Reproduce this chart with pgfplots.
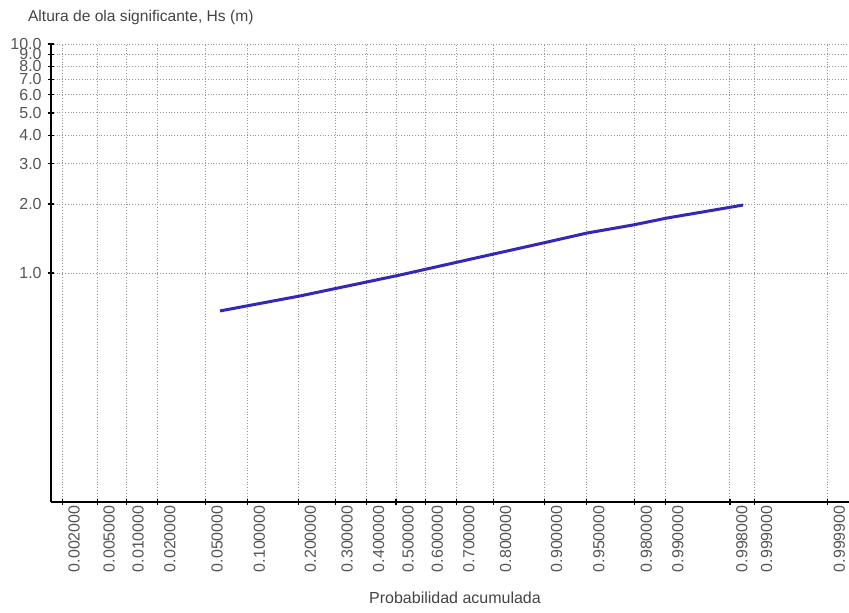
\documentclass[border=0pt]{standalone}
\usepackage{pgfplots}
\pgfplotsset{compat=1.18}
\usepackage{fontspec}
\setmainfont{Liberation Sans}
\definecolor{lblgray}{RGB}{85,85,85}
\definecolor{gridgray}{RGB}{150,150,150}
\definecolor{lineblue}{RGB}{50,40,185}
\begin{document}
\begin{tikzpicture}
\path[use as bounding box] (-25.5pt,-55pt) rectangle (399pt,251pt);
\begin{axis}[
  scale only axis,
  width=399pt, height=229pt,
  xmin=-2.974, xmax=3.905,
  ymode=log, ymin=0.1, ymax=10,
  axis x line=bottom, axis y line=left,
  axis line style={-, black, line width=0.8pt},
  xtick={-2.8782,-2.5758,-2.3263,-2.0537,-1.6449,-1.2816,-0.8416,-0.5244,-0.2533,0,0.2533,0.5244,0.8416,1.2816,1.6449,2.0537,2.3263,2.8782,3.0902,3.7190},
  xticklabels={0.002000,0.005000,0.010000,0.020000,0.050000,0.100000,0.200000,0.300000,0.400000,0.500000,0.600000,0.700000,0.800000,0.900000,0.950000,0.980000,0.990000,0.998000,0.999000,0.999900},
  ytick={1,2,3,4,5,6,7,8,9,10},
  yticklabels={1.0,2.0,3.0,4.0,5.0,6.0,7.0,8.0,9.0,10.0},
  minor ytick={},
  tick align=center,
  major tick length=3pt,
  tick style={black, line width=0.6pt},
  xticklabel style={rotate=90, anchor=east, font=\fontsize{8}{8}\selectfont, text=lblgray, inner sep=0pt, yshift=-6pt},
  yticklabel style={font=\fontsize{8}{8}\selectfont, text=lblgray, inner sep=0pt, xshift=-3pt},
  grid=major,
  major grid style={gridgray, densely dotted, line width=0.5pt},
  clip=false,
]
\addplot[lineblue, line width=1.5pt] coordinates {
(-1.517,0.683) (-0.828,0.794) (0.034,0.980) (0.724,1.174) (1.267,1.352) (1.647,1.495) (2.043,1.621) (2.336,1.738) (2.991,1.980)
};
\end{axis}
\node[anchor=west, font=\fontsize{7.8}{8}\selectfont, text=lblgray!80!black] at (-15pt,242.5pt) {Altura de ola significante, Hs (m)};
\node[font=\fontsize{8}{8}\selectfont, text=lblgray!80!black] at (202pt,-48pt) {Probabilidad acumulada};
\end{tikzpicture}
\end{document}
